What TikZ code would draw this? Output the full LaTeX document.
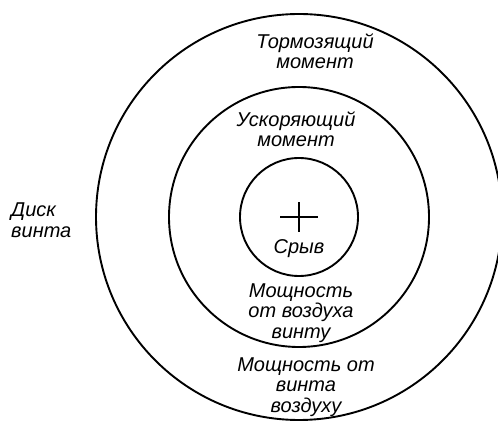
\documentclass[tikz,border=0pt]{standalone}
\usepackage{fontspec}
\setmainfont{Liberation Sans}
\usetikzlibrary{positioning}

\begin{document}
\begin{tikzpicture}[x=1pt,y=1pt,
  ring/.style={line width=1.9pt},
  lbl/.style={align=center,inner sep=0pt,font=\itshape\fontsize{20}{20.5}\selectfont}]

\useasboundingbox (0,0) rectangle (498,423);

% === Kruzhki ===
\coordinate (c) at (299,206);
\foreach \r in {203,130,59} {
  \draw[ring] (c) circle (\r);
}
% cross
\draw[line width=1.2pt] (280,206) -- (318,206);
\draw[line width=1.2pt] (299,191) -- (299,221);

% Labels
\node[lbl] (torm) at (315,372) {Тормозящий\\момент};
\node[lbl] (uskor) at (296,294) {Ускоряющий\\момент};
\node[lbl] (sryv) at (299,174) {Срыв};
\node[lbl] (vint) at (301,110) {Мощность\\от воздуха\\винту};
\node[lbl] (vozd) at (306,36) {Мощность от\\винта\\воздуху};

\node[lbl,align=left,anchor=west] (disk) at (11,203) {Диск\\винта};

\end{tikzpicture}
\end{document}
